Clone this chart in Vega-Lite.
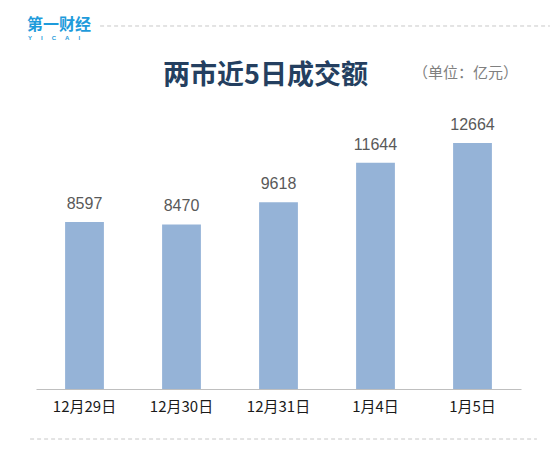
{
  "$schema": "https://vega.github.io/schema/vega-lite/v6.json",
  "width": 485,
  "height": 272,
  "autosize": {"type": "none"},
  "padding": {"left": 36, "top": 117, "right": 29, "bottom": 67},
  "background": "#ffffff",
  "config": {"view": {"stroke": null}},
  "data": {
    "values": [
      {"date": "12月29日", "value": 8597},
      {"date": "12月30日", "value": 8470},
      {"date": "12月31日", "value": 9618},
      {"date": "1月4日", "value": 11644},
      {"date": "1月5日", "value": 12664}
    ]
  },
  "encoding": {
    "x": {
      "field": "date",
      "type": "nominal",
      "sort": null,
      "scale": {"paddingInner": 0.6, "paddingOuter": 0.3},
      "axis": {
        "title": null,
        "labelAngle": 0,
        "ticks": false,
        "domainColor": "#BFBFBF",
        "domainWidth": 1,
        "labelPadding": 10,
        "labelFont": "Noto Sans CJK SC",
        "labelFontSize": 15,
        "labelColor": "#1a1a1a"
      }
    }
  },
  "layer": [
    {
      "mark": {"type": "bar", "color": "#95B3D7"},
      "encoding": {
        "y": {
          "field": "value",
          "type": "quantitative",
          "scale": {"domain": [0, 14000], "nice": false},
          "axis": null
        }
      }
    },
    {
      "mark": {
        "type": "text",
        "dy": -13,
        "baseline": "alphabetic",
        "font": "Liberation Sans",
        "fontSize": 16,
        "color": "#595959"
      },
      "encoding": {
        "y": {"field": "value", "type": "quantitative"},
        "text": {"field": "value", "type": "quantitative", "format": "d"}
      }
    },
    {
      "data": {"values": [{"pos": 18684}]},
      "mark": {"type": "rule", "strokeDash": [4, 3], "color": "#C8C8C8", "strokeWidth": 1, "xOffset": 35, "x2Offset": 58},
      "encoding": {
        "x": {"datum": "12月29日", "bandPosition": 0},
        "x2": {"datum": "1月5日", "bandPosition": 1},
        "y": {"field": "pos", "type": "quantitative"}
      }
    },
    {
      "data": {"values": [{"pos": -2574}]},
      "mark": {"type": "rule", "strokeDash": [4, 3], "color": "#C8C8C8", "strokeWidth": 1, "xOffset": -35, "x2Offset": 45},
      "encoding": {
        "x": {"datum": "12月29日", "bandPosition": 0},
        "x2": {"datum": "1月5日", "bandPosition": 1},
        "y": {"field": "pos", "type": "quantitative"}
      }
    },
    {
      "data": {"values": [{"label": "两市近5日成交额", "pos": 15699}]},
      "mark": {"type": "text", "dx": -13, "baseline": "alphabetic", "align": "center", "font": "Noto Sans CJK SC", "fontSize": 27, "fontWeight": "bold", "color": "#243F60"},
      "encoding": {
        "x": {"datum": "12月31日"},
        "y": {"field": "pos", "type": "quantitative"},
        "text": {"field": "label"}
      }
    },
    {
      "data": {"values": [{"label": "（单位：亿元）", "pos": 16265}]},
      "mark": {"type": "text", "dx": -7, "baseline": "middle", "align": "center", "font": "Noto Sans CJK SC", "fontSize": 15, "color": "#808080"},
      "encoding": {
        "x": {"datum": "1月5日"},
        "y": {"field": "pos", "type": "quantitative"},
        "text": {"field": "label"}
      }
    },
    {
      "data": {"values": [{"label": "第一财经", "pos": 18760}]},
      "mark": {"type": "text", "dx": -38, "baseline": "middle", "align": "left", "font": "Noto Sans CJK SC", "fontSize": 16, "fontWeight": "bold", "color": "#1E9BDB"},
      "encoding": {
        "x": {"datum": "12月29日", "bandPosition": 0},
        "y": {"field": "pos", "type": "quantitative"},
        "text": {"field": "label"}
      }
    },
    {
      "data": {"values": [{"label": "Y\u2003\u2002I\u2003\u2002C\u2003\u2002A\u2003\u2002I", "pos": 18760}]},
      "mark": {"type": "text", "dx": -37, "dy": 13, "baseline": "middle", "align": "left", "font": "Liberation Sans", "fontSize": 6, "fontWeight": "bold", "color": "#1E9BDB"},
      "encoding": {
        "x": {"datum": "12月29日", "bandPosition": 0},
        "y": {"field": "pos", "type": "quantitative"},
        "text": {"field": "label"}
      }
    }
  ]
}
